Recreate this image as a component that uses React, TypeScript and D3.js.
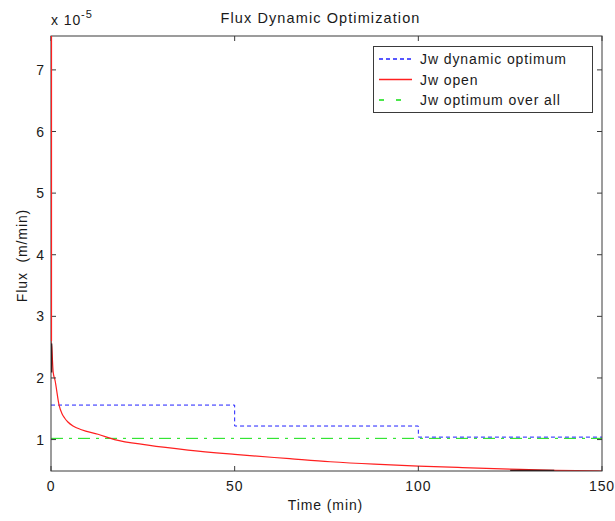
import React from 'react';
import * as d3 from 'd3';

// data (flux in units of 1e-5 m/min)
const dynTime = [0, 50, 50, 100, 100, 150];
const dynFlux = [1.56, 1.56, 1.22, 1.22, 1.04, 1.04];
const openTime = [0, 0.02, 0.2, 0.6, 1.1, 2.2, 3, 3.7, 4.6, 6, 8.3, 12.8, 17.3, 26.4, 37.3, 50, 65, 76, 88, 100, 112, 125, 137, 150];
const openFlux = [7.55, 2.6, 2.5, 2.09, 1.96, 1.56, 1.42, 1.35, 1.285, 1.22, 1.16, 1.086, 1.0, 0.91, 0.83, 0.76, 0.69, 0.64, 0.6, 0.57, 0.545, 0.52, 0.5, 0.49];
// short dark overdrawn pieces of the open curve
const darkTime = [[0.15, 0.15], [125, 137]];
const darkFlux = [[2.56, 2.09], [0.5, 0.5]];
const overallTime = [0, 150];
const overallFlux = [1.02, 1.02];
const xTicks = [0, 50, 100, 150];
const yTicks = [1, 2, 3, 4, 5, 6, 7];

const W = 615, H = 521;
const M = { left: 51, right: 13, top: 36, bottom: 50 };
const font = 'Arial, "Liberation Sans", sans-serif';
const fs = 14;
const ls = 0.9;
const axisCol = '#3a3a3a';

export default function App() {
  const x = d3.scaleLinear().domain([0, 150]).range([M.left, W - M.right]);
  const y = d3.scaleLinear().domain([0.49, 7.55]).range([H - M.bottom, M.top]);
  const line = d3.line<[number, number]>().x(d => x(d[0])).y(d => y(d[1]));
  const smooth = d3.line<[number, number]>().x(d => x(d[0])).y(d => y(d[1])).curve(d3.curveMonotoneX);
  const pts = (t: number[], v: number[]) => t.map((tt, i) => [tt, v[i]] as [number, number]);

  const [x0, x1] = x.range();
  const [yb, yt] = y.range();

  const legend = [
    { label: 'Jw dynamic optimum', color: '#2020ff', dash: '4 3' },
    { label: 'Jw open', color: '#ff2020', dash: 'none' },
    { label: 'Jw optimum over all', color: '#10e010', dash: '5 12' },
  ];

  const txt = { fontFamily: font, fontSize: fs, letterSpacing: ls, fill: '#1a1a1a' };

  return (
    <svg width={W} height={H} style={{ position: 'absolute', left: 0, top: 0, background: '#fff' }}>
      <defs>
        <clipPath id="plot">
          <rect x={x0} y={yt} width={x1 - x0} height={yb - yt} />
        </clipPath>
      </defs>
      <text x={(x0 + x1) / 2 - 6} y={23} textAnchor="middle" {...txt} fontSize={14.5} letterSpacing={1.1}>
        Flux Dynamic Optimization
      </text>
      <text x={x0} y={25} {...txt}>
        x 10<tspan dy={-7} fontSize={11}>-5</tspan>
      </text>

      <g clipPath="url(#plot)">
        <path d={line(pts(overallTime, overallFlux)) || ''} fill="none" stroke="#10e010" strokeWidth={1} strokeDasharray="12 6 3 6" />
        <path d={line(pts(dynTime, dynFlux)) || ''} fill="none" stroke="#2020ff" strokeWidth={1} strokeDasharray="4 3" />
        <path d={smooth(pts(openTime, openFlux)) || ''} fill="none" stroke="#ff2020" strokeWidth={1.2} />
        {darkTime.map((t, i) => (
          <path key={i} d={line(pts(t, darkFlux[i])) || ''} fill="none" stroke="#300000" strokeWidth={1.5} />
        ))}
      </g>

      {/* box */}
      <rect x={x0} y={yt} width={x1 - x0} height={yb - yt} fill="none" stroke={axisCol} strokeWidth={1} />
      {xTicks.map(t => (
        <g key={'x' + t}>
          <line x1={x(t)} x2={x(t)} y1={yb} y2={yb - 5} stroke={axisCol} />
          <line x1={x(t)} x2={x(t)} y1={yt} y2={yt + 5} stroke={axisCol} />
          <text x={x(t)} y={yb + 20} textAnchor="middle" {...txt}>{t}</text>
        </g>
      ))}
      {yTicks.map(t => (
        <g key={'y' + t}>
          <line x1={x0} x2={x0 + 5} y1={y(t)} y2={y(t)} stroke={axisCol} />
          <line x1={x1} x2={x1 - 5} y1={y(t)} y2={y(t)} stroke={axisCol} />
          <text x={x0 - 6} y={y(t) + 5} textAnchor="end" {...txt}>{t}</text>
        </g>
      ))}
      {/* open curve's first drop runs along the left axis */}
      <line x1={x0 + 0.5} x2={x0 + 0.5} y1={yt} y2={y(2.6)} stroke="#ff2020" strokeWidth={1.2} />

      <text x={(x0 + x1) / 2 - 1} y={510} textAnchor="middle" {...txt}>Time (min)</text>
      <text transform={`translate(27,${(yt + yb) / 2 + 2}) rotate(-90)`} textAnchor="middle" {...txt} xmlSpace="preserve">
        Flux  (m/min)
      </text>

      {/* legend */}
      <rect x={373.5} y={46.5} width={219} height={66} fill="#fff" stroke={axisCol} />
      {legend.map((l, i) => (
        <g key={l.label} transform={`translate(0,${59 + i * 20.5})`}>
          <line x1={379} x2={412} y1={0} y2={0} stroke={l.color} strokeDasharray={l.dash} strokeWidth={1.5} />
          <text x={420} y={5} {...txt}>{l.label}</text>
        </g>
      ))}
    </svg>
  );
}
